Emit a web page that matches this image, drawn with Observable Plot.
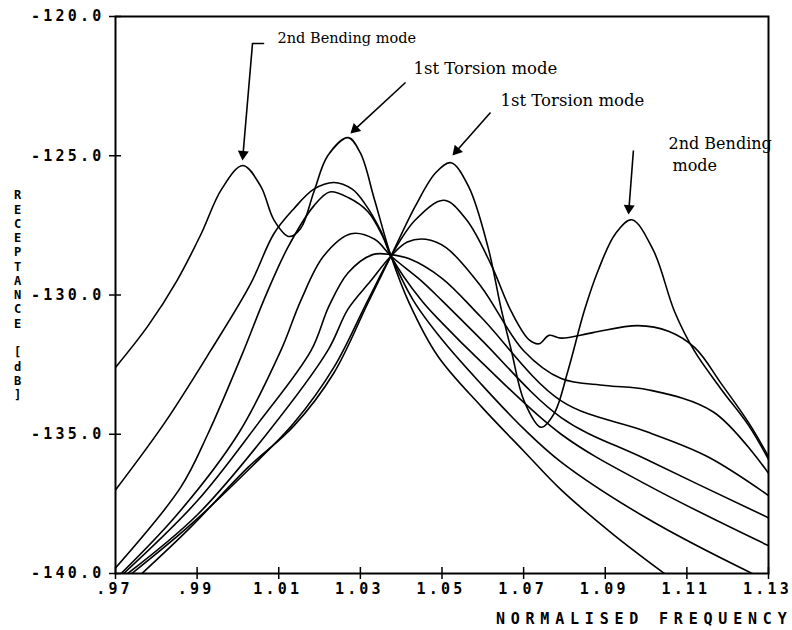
<!DOCTYPE html>
<html>
<head>
<meta charset="utf-8">
<script src="https://cdn.jsdelivr.net/npm/d3@7"></script>
<script src="https://cdn.jsdelivr.net/npm/@observablehq/plot@0.6"></script>
<style>
  html, body { margin: 0; padding: 0; background: #fff; }
</style>
</head>
<body>
<div id="chart"></div>
<script>
// ---- tick values ----
const freqTicks = [0.97, 0.99, 1.01, 1.03, 1.05, 1.07, 1.09, 1.11, 1.13];
const dbTicks = [-140, -135, -130, -125, -120];

// ---- receptance curves [normalised frequency, dB] ----
const curveA = [[0.970,-132.6],[0.978,-131.1],[0.985,-129.5],[0.991,-127.8],[0.996,-126.2],[1.0012,-125.35],[1.0056,-126.1],[1.0088,-127.3],[1.0125,-127.9],[1.0154,-127.6],[1.0186,-126.3],[1.022,-125.0],[1.027,-124.35],[1.030,-124.9],[1.0335,-126.6],[1.0375,-128.6],[1.042,-130.3],[1.049,-132.2],[1.0596,-134.0],[1.070,-135.6],[1.0792,-137.0],[1.092,-138.6],[1.1045,-140.0],[1.112,-140.8]];
const curveL1 = [[0.970,-137.0],[0.982,-134.6],[0.9933,-132.0],[1.0031,-129.6],[1.0088,-127.8],[1.0137,-126.9],[1.0186,-126.2],[1.0235,-125.96],[1.028,-126.2],[1.031,-126.7],[1.035,-127.7],[1.0375,-128.6],[1.043,-130.2],[1.050,-131.6],[1.0596,-133.2],[1.070,-134.8],[1.0792,-136.0],[1.100,-138.0],[1.126,-140.0],[1.132,-140.4]];
const curveL2 = [[0.970,-139.8],[0.986,-136.9],[0.9926,-135.0],[1.0014,-132.0],[1.0063,-130.2],[1.0122,-128.3],[1.0186,-126.8],[1.0225,-126.3],[1.027,-126.5],[1.0318,-127.0],[1.0355,-127.9],[1.0375,-128.6],[1.045,-130.2],[1.050,-131.0],[1.0596,-132.4],[1.0792,-135.0],[1.100,-136.8],[1.130,-139.0]];
const curveL3 = [[0.970,-140.2],[0.985,-137.9],[1.000,-135.0],[1.0105,-132.0],[1.0154,-130.2],[1.021,-128.6],[1.0277,-127.8],[1.0335,-128.0],[1.0375,-128.6],[1.045,-129.5],[1.050,-130.2],[1.0596,-131.6],[1.0792,-134.4],[1.100,-135.9],[1.130,-138.0]];
const curveM = [[0.972,-140.0],[0.990,-137.4],[1.005,-134.6],[1.0179,-132.0],[1.0223,-130.4],[1.027,-129.2],[1.033,-128.55],[1.0375,-128.55],[1.042,-128.7],[1.050,-129.4],[1.0596,-130.8],[1.0792,-133.8],[1.100,-134.9],[1.115,-135.8],[1.130,-137.2]];
const curveR2 = [[0.973,-140.0],[0.990,-137.9],[1.007,-135.0],[1.022,-132.0],[1.027,-130.5],[1.0325,-129.5],[1.0375,-128.6],[1.0415,-128.1],[1.046,-128.0],[1.051,-128.3],[1.0596,-129.7],[1.070,-132.0],[1.0792,-133.0],[1.090,-133.25],[1.1004,-133.4],[1.1165,-134.2],[1.130,-136.4]];
const curveC = [[0.974,-140.0],[0.988,-138.3],[1.0024,-136.3],[1.0137,-134.6],[1.0235,-132.6],[1.0318,-130.2],[1.0375,-128.6],[1.0435,-127.3],[1.0505,-126.6],[1.056,-127.3],[1.062,-128.9],[1.067,-130.6],[1.0713,-131.6],[1.0738,-131.75],[1.0762,-131.45],[1.0792,-131.55],[1.087,-131.35],[1.098,-131.1],[1.1055,-131.3],[1.112,-131.9],[1.1185,-133.2],[1.1252,-134.6],[1.130,-135.8]];
const curveB = [[0.975,-140.2],[0.988,-138.4],[1.0024,-136.2],[1.0137,-134.7],[1.0235,-132.8],[1.0318,-130.3],[1.0375,-128.6],[1.0435,-126.8],[1.0485,-125.6],[1.0522,-125.25],[1.0565,-126.1],[1.0613,-128.3],[1.0645,-130.5],[1.067,-132.0],[1.0701,-133.8],[1.0743,-134.75],[1.0775,-134.25],[1.0809,-132.7],[1.0849,-130.55],[1.0883,-129.1],[1.0925,-127.8],[1.0965,-127.3],[1.1018,-128.4],[1.107,-130.6],[1.1118,-132.0],[1.1185,-133.4],[1.1252,-134.7],[1.130,-135.9]];

// ---- annotations ----
const annoLabels = ["2nd Bending mode", "1st Torsion mode", "1st Torsion mode", "2nd Bending", "mode"];
const annoX = [1.0097, 1.04302, 1.06434, 1.10551, 1.10649];
const annoY = [-120.79, -121.87, -123.02, -124.56, -125.35];
const annoSize = [14.5, 16.5, 16.5, 16, 16];
const arrowHook = [[1.00627, -120.97], [1.00357, -120.97]];
const arrowFrom = [[1.00357, -120.97], [1.04106, -122.37], [1.06189, -123.45], [1.0969, -124.81]];
const arrowTip  = [[1.00112, -125.17], [1.02758, -124.20], [1.05258, -124.99], [1.0957, -127.11]];

// ---- layout ----
const W = 792, H = 630, mL = 115, mR = 24, mT = 16, mB = 57;
const xDom = [0.97, 1.13], yDom = [-140, -120];
const kx = (W - mL - mR) / (xDom[1] - xDom[0]);
const ky = (H - mT - mB) / (yDom[1] - yDom[0]);

const curves = {A: curveA, L1: curveL1, L2: curveL2, L3: curveL3, M: curveM, R2: curveR2, C: curveC, B: curveB};
const rows = [];
for (const [name, pts] of Object.entries(curves)) for (const [f, v] of pts) rows.push({s: name, x: f, y: v});

const annos = annoLabels.map((t, i) => ({t, x: annoX[i], y: annoY[i], fs: annoSize[i]}));
const headOff = 6.3;
const shafts = [], heads = [];
arrowFrom.forEach((fr, i) => {
  const tp = arrowTip[i];
  const dxp = (tp[0] - fr[0]) * kx, dyp = -(tp[1] - fr[1]) * ky;
  const L = Math.hypot(dxp, dyp), ux = dxp / L, uy = dyp / L;
  const cx = tp[0] - headOff * ux / kx, cy = tp[1] + headOff * uy / ky;
  shafts.push({x1: fr[0], y1: fr[1], x2: cx, y2: cy});
  heads.push({x: cx, y: cy, a: Math.atan2(ux, -uy) * 180 / Math.PI});
});
const hook = arrowHook.map(([x, y]) => ({x, y}));

const fmtF = d => d < 1 ? d.toFixed(2).slice(1) : d.toFixed(2);

const chart = Plot.plot({
  width: W, height: H,
  marginLeft: mL, marginRight: mR, marginTop: mT, marginBottom: mB,
  x: {domain: xDom, label: null},
  y: {domain: yDom, label: null},
  style: {background: "#fff", color: "#000", fontFamily: "DejaVu Sans Mono", overflow: "visible"},
  marks: [
    Plot.frame({stroke: "#000", strokeWidth: 2}),
    Plot.axisY(dbTicks, {tickSize: 12, dx: 6, strokeWidth: 1.5, tickFormat: () => ""}),
    Plot.axisY(dbTicks, {tickSize: 0, tickPadding: 11, tickFormat: d => d.toFixed(1), fontSize: 15, fontWeight: "bold"}),
    Plot.axisX(freqTicks, {tickSize: 12, dy: -6, strokeWidth: 1.5, tickFormat: () => ""}),
    Plot.axisX(freqTicks, {tickSize: 0, tickPadding: 10, dx: -1, tickFormat: fmtF, fontSize: 15, fontWeight: "bold"}),
    Plot.line(rows, {x: "x", y: "y", z: "s", curve: "catmull-rom", stroke: "#000", strokeWidth: 1.6, clip: true}),
    Plot.text(annos.filter(d => d.fs === 14.5), {x: "x", y: "y", text: "t", textAnchor: "start", fontFamily: "DejaVu Serif", fontSize: 14.5, fill: "#000"}),
    Plot.text(annos.filter(d => d.fs === 16.5), {x: "x", y: "y", text: "t", textAnchor: "start", fontFamily: "DejaVu Serif", fontSize: 16.5, fill: "#000"}),
    Plot.text(annos.filter(d => d.fs === 16), {x: "x", y: "y", text: "t", textAnchor: "start", fontFamily: "DejaVu Serif", fontSize: 16, fill: "#000"}),
    Plot.line(hook, {x: "x", y: "y", stroke: "#000", strokeWidth: 1.6}),
    Plot.link(shafts, {x1: "x1", y1: "y1", x2: "x2", y2: "y2", stroke: "#000", strokeWidth: 1.6}),
    Plot.dot(heads, {x: "x", y: "y", rotate: "a", symbol: "triangle", r: 4.1, fill: "#000", stroke: "none"}),
    Plot.text(["NORMALISED FREQUENCY"], {frameAnchor: "bottom-right", textAnchor: "end", dx: 24, dy: 50, fontSize: 15, fontWeight: "bold", fill: "#000"}),
    Plot.text(["R\nE\nC\nE\nP\nT\nA\nN\nC\nE\n \n[\nd\nB\n]"], {frameAnchor: "top-left", textAnchor: "middle", lineAnchor: "top", lineHeight: 1.19, dx: -98, dy: 172.6, fontSize: 12, fontWeight: "bold", fill: "#000"})
  ]
});

d3.select(chart).selectAll('g[aria-label="x-axis tick label"] text, g[aria-label="y-axis tick label"] text')
  .attr("letter-spacing", "3.2px")
  .attr("font-weight", "bold")
  .style("font-weight", "bold");
d3.select(chart).selectAll("text")
  .filter(function () { return this.textContent === "NORMALISED FREQUENCY"; })
  .attr("letter-spacing", "5.8px");

document.getElementById("chart").appendChild(chart);
</script>
</body>
</html>
